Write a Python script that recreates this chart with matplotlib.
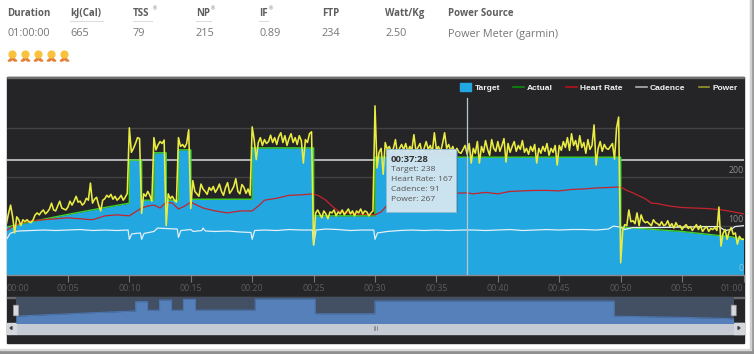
import numpy as np
import matplotlib
matplotlib.use("Agg")
import matplotlib.pyplot as plt
from matplotlib.lines import Line2D
from matplotlib.patches import Patch, Rectangle, Circle, FancyBboxPatch, Polygon

plt.rcParams['font.family'] = ['Open Sans', 'DejaVu Sans']

# ---- data -------------------------------------------------------------
summary_labels = ["Duration", "kJ(Cal)", "TSS", "NP", "IF", "FTP", "Watt/Kg", "Power Source"]
summary_values = ["01:00:00", "665", "79", "215", "0.89", "234", "2.50", "Power Meter (garmin)"]

target_time = [0, 2, 5, 8, 10, 10, 11, 11, 12, 12, 13, 13, 14, 14, 15, 15, 20, 20, 25, 25, 30, 30, 50, 50, 55, 59, 60]
target_vals = [97, 108, 123, 137, 146, 234, 234, 152, 152, 249, 249, 152, 152, 255, 255, 154, 154, 259, 259, 120, 120, 240, 240, 97, 88, 77, 72]

hr_time = [0, .5, 1, 2, 3, 4, 5, 6, 7, 7.5, 8, 9, 10, 10.5, 11, 11.5, 12, 12.5, 13, 13.5, 14, 14.5, 15, 15.5, 16, 17, 17.5, 18, 19, 20,
           20.5, 21, 22, 23, 24, 25, 25.5, 26, 26.5, 27, 28, 29, 30, 30.5, 31, 32, 33, 34, 35, 36, 37.5, 38, 39, 40, 41, 42, 43, 44, 45, 46, 47, 48, 49, 50,
           50.5, 51, 52, 52.5, 53, 54, 55, 56, 57, 58, 59, 60]
hr_vals = [90, 98, 104, 110, 112, 114, 116, 114, 112, 116, 120, 122, 120, 128, 136, 140, 142, 136, 148, 146, 134, 140, 148, 142, 136, 130, 128, 126, 130, 130,
           140, 152, 156, 162, 163, 165, 160, 152, 140, 130, 125, 123, 122, 128, 142, 152, 158, 162, 165, 166, 167, 165, 168, 165, 170, 171, 172, 172, 171, 174, 175, 177, 178, 179,
           172, 167, 155, 146, 145, 140, 137, 136, 135, 133, 129, 124]

cad_time = [0, .3, .7, 1, 2, 3, 4, 5, 6, 7, 8, 9, 9.9, 10, 10.2, 10.9, 11, 11.2, 12, 12.3, 13, 13.9, 14, 14.2, 15, 15.2, 15.9, 16, 16.2, 17, 18, 19, 19.9, 20, 20.2, 21, 22, 23, 24, 24.9, 25, 25.2, 26, 27, 28, 29, 29.9, 30, 30.2, 31, 32,
            33, 34, 35, 36, 37, 38, 39, 40, 41, 42, 43, 44, 45, 46, 47, 48, 49, 49.4, 50, 50.3, 51, 53, 55, 57, 58, 58.5, 59, 59.3, 60]
cad_vals = [72, 84, 88, 89, 90, 91, 90, 91, 92, 90, 91, 90, 91, 72, 83, 85, 72, 84, 88, 95, 94, 93, 76, 90, 92, 88, 90, 95, 89, 88, 89, 87, 86, 72, 90, 91, 90, 92, 91, 91, 60, 91, 93, 92, 90, 91, 91, 72, 85, 88, 90,
            91, 90, 91, 90, 91, 91, 90, 91, 92, 90, 91, 92, 91, 92, 92, 91, 93, 99, 97, 92, 96, 96, 97, 98, 98, 90, 92, 98, 100]

power_00_05 = [105, 125, 142, 118, 85, 118, 112, 100, 112, 108, 112, 108, 106, 112, 122, 126, 122, 128, 132, 124, 128, 134, 146, 132, 130, 140, 150, 136, 134, 132]
power_05_10 = [138, 150, 142, 150, 160, 148, 150, 142, 146, 156, 152, 187, 146, 154, 158, 142, 130, 152, 155, 162, 158, 164, 154, 160, 152, 156, 162, 152, 158, 166]
power_10_15 = [300, 250, 258, 268, 280, 278, 125, 165, 160, 170, 162, 150, 280, 255, 265, 272, 268, 275, 100, 165, 155, 160, 152, 148, 280, 262, 266, 260, 268, 296]
power_15_20 = [135, 192, 170, 165, 160, 185, 175, 170, 164, 178, 172, 180, 168, 175, 185, 170, 162, 178, 188, 166, 172, 180, 196, 170, 165, 184, 178, 166, 175, 162]
power_20_25 = [302, 275, 235, 270, 280, 264, 276, 268, 272, 285, 270, 280, 266, 282, 290, 270, 284, 264, 278, 288, 270, 280, 266, 284, 274, 228, 276, 270, 288, 292]
power_25_30 = [60, 126, 132, 124, 116, 130, 124, 114, 128, 126, 132, 120, 128, 124, 132, 122, 128, 134, 124, 130, 120, 130, 126, 134, 124, 130, 128, 120, 126, 130]
power_30_35 = [345, 218, 250, 258, 205, 270, 256, 262, 250, 258, 276, 245, 258, 266, 255, 268, 250, 262, 255, 286, 252, 260, 268, 248, 258, 272, 256, 264, 250, 290]
power_35_40 = [255, 262, 250, 268, 290, 258, 266, 252, 262, 248, 258, 250, 248, 256, 264, 246, 268, 228, 258, 248, 272, 228, 262, 250, 274, 256, 244, 276, 258, 252]
power_40_45 = [272, 252, 264, 278, 230, 268, 250, 262, 272, 252, 264, 256, 274, 250, 258, 246, 262, 252, 266, 228, 258, 248, 262, 252, 268, 244, 258, 250, 264, 224]
power_45_50 = [264, 254, 272, 260, 280, 254, 288, 264, 274, 254, 284, 260, 270, 248, 276, 256, 264, 306, 224, 258, 272, 252, 266, 258, 256, 262, 268, 236, 300, 322]
power_50_55 = [24, 90, 102, 100, 132, 108, 110, 104, 126, 100, 122, 110, 106, 108, 104, 100, 112, 106, 104, 100, 108, 100, 102, 110, 98, 104, 95, 106, 98, 100]
power_55_60 = [92, 98, 102, 94, 98, 90, 96, 102, 92, 100, 88, 94, 98, 88, 94, 92, 96, 90, 138, 58, 84, 92, 72, 88, 96, 82, 85, 62, 78, 72]

nav_ticks = [0, 5, 10, 15, 20, 25, 30, 35, 40, 45, 50, 55, 60]
tick_labels = ["00:00", "00:05", "00:10", "00:15", "00:20", "00:25", "00:30", "00:35", "00:40", "00:45", "00:50", "00:55", "01:00"]
tooltip_lines = ["Target: 238", "Heart Rate: 167", "Cadence: 91", "Power: 267"]

power_vals = (power_00_05 + power_05_10 + power_10_15 + power_15_20 + power_20_25 + power_25_30
              + power_30_35 + power_35_40 + power_40_45 + power_45_50 + power_50_55 + power_55_60)
power_time = [i * 5 / 30 for i in range(len(power_vals))]
power_vals = power_vals + [72]
power_time = power_time + [60]

# ---- layout -------------------------------------------------------------
W, H = 754, 354
fig = plt.figure(figsize=(W / 100, H / 100), dpi=100, facecolor="white")


def box(x0, y0, x1, y1):
    return [x0 / W, 1 - y1 / H, (x1 - x0) / W, (y1 - y0) / H]


bg = fig.add_axes([0, 0, 1, 1], zorder=0)
bg.set_xlim(0, W); bg.set_ylim(H, 0); bg.axis("off")
bg.add_patch(Rectangle((750.5, 0), 3.5, 352, color="#9a9a9a"))
bg.add_patch(Rectangle((750, 0), 1, 352, color="#cfcfcf"))
bg.add_patch(Rectangle((0, 350), 754, 4, color="#8f8f8f"))
bg.add_patch(Rectangle((0, 349), 751, 1.2, color="#d8d8d8"))
bg.add_patch(Rectangle((7, 77), 736.5, 266, color="#252528"))
bg.add_patch(Rectangle((7, 77), 736.5, 1.2, color="#6e6e6e"))
bg.add_patch(Rectangle((7, 296.6), 736.5, 1, color="#6a6a6e"))
bg.add_patch(Rectangle((16, 323), 727.5, 10.5, color="#c4cbd4"))
bg.add_patch(Rectangle((7, 323), 9, 10.5, color="#d4d8de"))
bg.add_patch(Rectangle((734, 323), 9.5, 10.5, color="#d4d8de"))
bg.add_patch(Polygon([[10, 328], [12, 326.5], [12, 329.5]], color="#444444"))
bg.add_patch(Polygon([[740, 328], [738, 326.5], [738, 329.5]], color="#444444"))
for gx in (373.5, 375, 376.5):
    bg.plot([gx, gx], [326, 330], color="#777777", lw=0.5)

cols = [7, 70, 133, 196, 259, 322, 385, 448]
for cx, lab, val in zip(cols, summary_labels, summary_values):
    bg.text(cx, 13.5, lab, fontsize=7.0, fontweight="bold", color="#5e5e5e", va="center", ha="left")
    bg.text(cx, 34, val, fontsize=7.8, color="#777777", va="center", ha="left")
for cx, wd in ((70, 33), (133, 19), (196, 15), (259, 9)):
    bg.plot([cx, cx + wd], [20.5, 20.5], color="#dcdcdc", lw=0.8)
for cx in (152.5, 211, 269):
    bg.text(cx, 9, "®", fontsize=3.5, color="#777777", va="center", ha="left")

for mx in (12.5, 25.5, 38.5, 51.5, 64.5):
    bg.add_patch(Polygon([[mx - 4.5, 61], [mx, 57], [mx + 4.5, 61], [mx + 2, 61], [mx, 59.5], [mx - 2, 61]],
                         color="#e2813a"))
    bg.add_patch(Circle((mx, 54.5), 3.4, color="#f8c23c"))

# ---- main chart --------------------------------------------------------
ax = fig.add_axes(box(6.5, 78, 743.5, 274.5), zorder=1)
ax.set_facecolor("none")
ax.set_xlim(0, 60)
ax.set_ylim(0, 402)
for s in ax.spines.values():
    s.set_visible(False)
ax.spines["bottom"].set_visible(True)
ax.spines["bottom"].set_color("#8a8a8e")
ax.spines["bottom"].set_linewidth(1.0)
ax.set_xticks(nav_ticks, tick_labels)
ax.tick_params(axis="x", length=5, width=0.8, color="#77777b", labelcolor="#5c5c60", labelsize=6.3, pad=2)
ax.xaxis.get_major_ticks()[0].tick1line.set_visible(False)
ax.get_xticklabels()[0].set_ha("left")
ax.get_xticklabels()[-1].set_ha("right")
ax.set_yticks([])
for g in (100, 200, 300):
    ax.axhline(g, color="#434346", lw=1, zorder=1)
ax.axhline(234, color="#b4b4b6", lw=1.4, zorder=1.5)
for g in (100, 200):
    ax.text(60, g + 4, str(g), ha="right", va="bottom", color="#8e8e90", fontsize=6.3, zorder=6)
ax.text(60, 3, "0", ha="right", va="bottom", color="#8ec4dc", fontsize=6.3, zorder=6)

ax.fill_between(target_time, 0, target_vals, color="#22a7e0", lw=0, zorder=2)
ax.plot(target_time, target_vals, color="#3fd22a", lw=1.0, zorder=3)
ax.plot(hr_time, hr_vals, color="#c4242c", lw=0.9, zorder=4)
ax.plot(cad_time, cad_vals, color="#e4eff6", lw=0.9, zorder=4.2)
ax.plot(power_time, power_vals, color="#eaec40", lw=1.15, zorder=4.5)
ax.axvline(37.47, ymax=0.9, color="#b9c6ce", lw=0.9, zorder=5)

handles = [Patch(color="#22a7e0", label="Target"),
           Line2D([], [], color="#0c8a0c", lw=1.2, label="Actual"),
           Line2D([], [], color="#b5121b", lw=1.2, label="Heart Rate"),
           Line2D([], [], color="#b0b0b4", lw=1.2, label="Cadence"),
           Line2D([], [], color="#96962a", lw=1.2, label="Power")]
leg = ax.legend(handles=handles, ncol=5, loc="upper right", bbox_to_anchor=(1.0, 1.0), frameon=False,
                labelcolor="#f2f2f2", handlelength=1.3, handleheight=0.95, handletextpad=0.42,
                columnspacing=1.55, borderaxespad=0.35, borderpad=0.3,
                prop={"family": "Liberation Sans", "weight": "bold", "size": 6.0})
leg.set_zorder(7)

# ---- navigator -------------------------------------------------------
nav = fig.add_axes(box(16, 297.3, 733.7, 323.3), zorder=1)
nav.set_facecolor("#434f63")
nav.set_xlim(0, 60)
nav.set_ylim(30, 275)
nav.set_xticks([]); nav.set_yticks([])
for s in nav.spines.values():
    s.set_visible(False)
nav.fill_between(target_time, 0, target_vals, color="#5580ba", lw=0)
nav.plot(target_time, target_vals, color="#4a74ad", lw=0.8)

# ---- overlay ----------------------------------------------------------
top = fig.add_axes([0, 0, 1, 1], zorder=3)
top.set_xlim(0, W); top.set_ylim(H, 0); top.axis("off")
for hx in (16, 733.7):
    top.add_patch(FancyBboxPatch((hx - 2.2, 305.5), 4.4, 10, boxstyle="round,pad=0.3",
                                 fc="#d8dade", ec="#a0a0a4", lw=0.5))
top.add_patch(Rectangle((387.5, 150.5), 70, 62.5, fc="#3c7fa5", ec="none", alpha=0.7))
top.add_patch(Rectangle((386, 149), 70, 62.5, fc="#d8eaf4", ec="#8fbcd6", lw=0.7, alpha=0.93))
top.text(391, 159.5, "00:37:28", fontsize=6.8, fontweight="bold", color="#333333", va="center")
for i, line in enumerate(tooltip_lines):
    top.text(391, 169.5 + i * 10.1, line, fontsize=6.1, color="#555555", va="center")

fig.savefig("out.png", dpi=100)
